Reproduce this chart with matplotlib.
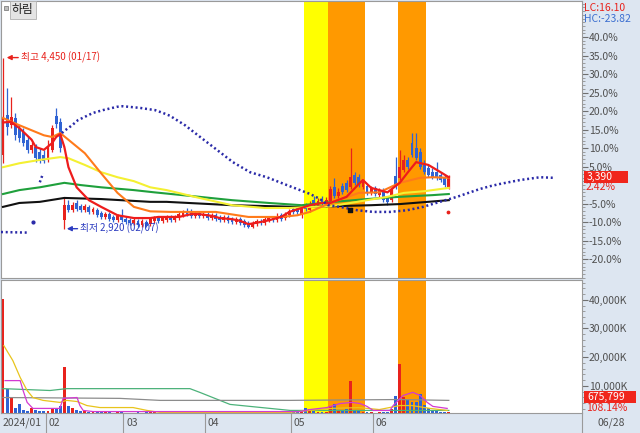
import matplotlib
matplotlib.use('Agg')
import matplotlib.pyplot as plt
from matplotlib.ticker import FixedLocator, MultipleLocator
from matplotlib.transforms import blended_transform_factory
from matplotlib.lines import Line2D
from matplotlib.patches import Rectangle

plt.rcParams['font.family'] = ['Noto Sans CJK KR', 'DejaVu Sans']

# 기준가 (0%)
base_price = 3310

# 일봉 데이터 (2024/01/17 ~ 06/28)
opens = [3580, 3935, 3845, 3910, 3820, 3785, 3715, 3625, 3650, 3605,
         3580, 3535, 3625, 3930, 3875, 2995, 3130, 3085, 3150, 3120,
         3085, 3115, 3070, 3085, 3060, 3025, 3050, 3025, 2995, 3040,
         3005, 2995, 2970, 2990, 2950, 2980, 2960, 2990, 3015, 2990,
         2995, 3025, 2995, 3015, 3040, 3075, 3070, 3035, 3060, 3035,
         3050, 3015, 3040, 3025, 2995, 3025, 3005, 2980, 3005, 2990,
         2970, 2935, 2960, 2990, 2970, 2995, 3015, 2995, 3040, 3015,
         3040, 3095, 3105, 3040, 3120, 3085, 3175, 3120, 3185, 3130,
         3165, 3290, 3210, 3300, 3330, 3290, 3400, 3380, 3290, 3300,
         3240, 3285, 3220, 3265, 3195, 3175, 3390, 3375, 3445, 3535,
         3685, 3640, 3605, 3490, 3460, 3425, 3425, 3400, 3375, 3290]
closes = [3910, 3830, 3920, 3755, 3730, 3685, 3625, 3670, 3550, 3535,
          3525, 3640, 3820, 3855, 3640, 3130, 3085, 3130, 3095, 3085,
          3120, 3070, 3095, 3040, 3025, 3050, 3005, 2995, 3035, 2995,
          2980, 2970, 2995, 2950, 2990, 2945, 3005, 3015, 2990, 3015,
          3025, 2995, 3025, 3050, 3070, 3050, 3035, 3060, 3035, 3050,
          3015, 3040, 3005, 2995, 3025, 2990, 2980, 3005, 2970, 2950,
          2935, 2970, 2990, 2970, 3005, 3015, 2995, 3035, 3005, 3050,
          3075, 3070, 3070, 3095, 3095, 3140, 3140, 3165, 3140, 3175,
          3275, 3210, 3245, 3245, 3265, 3380, 3330, 3310, 3335, 3240,
          3285, 3230, 3265, 3175, 3160, 3265, 3300, 3470, 3535, 3470,
          3580, 3550, 3470, 3425, 3400, 3380, 3375, 3355, 3310, 3390]
highs = [4450, 4180, 4100, 3955, 3845, 3820, 3750, 3695, 3675, 3640,
         3625, 3715, 3845, 4000, 3910, 3205, 3175, 3160, 3175, 3140,
         3140, 3130, 3115, 3105, 3075, 3070, 3070, 3040, 3050, 3095,
         3035, 3015, 3015, 3005, 3005, 2995, 3025, 3035, 3035, 3035,
         3040, 3040, 3040, 3070, 3085, 3105, 3095, 3075, 3075, 3070,
         3070, 3060, 3060, 3040, 3040, 3040, 3025, 3025, 3025, 3005,
         2990, 2990, 3005, 3005, 3025, 3035, 3035, 3060, 3060, 3070,
         3095, 3115, 3120, 3120, 3150, 3165, 3210, 3195, 3210, 3205,
         3300, 3375, 3285, 3330, 3355, 3640, 3425, 3410, 3355, 3320,
         3300, 3300, 3285, 3285, 3210, 3285, 3560, 3625, 3580, 3560,
         3775, 3775, 3640, 3535, 3490, 3460, 3515, 3425, 3400, 3400]
lows = [3505, 3755, 3820, 3715, 3695, 3660, 3595, 3595, 3515, 3505,
        3505, 3515, 3605, 3820, 3605, 2920, 3070, 3070, 3075, 3070,
        3070, 3050, 3050, 3025, 3005, 3005, 2990, 2980, 2980, 2980,
        2960, 2950, 2950, 2935, 2935, 2935, 2945, 2970, 2970, 2970,
        2980, 2980, 2980, 2995, 3025, 3035, 3015, 3015, 3015, 3015,
        2995, 2995, 2990, 2980, 2980, 2970, 2960, 2960, 2950, 2935,
        2925, 2925, 2945, 2950, 2950, 2980, 2980, 2980, 2990, 2995,
        3025, 3050, 3050, 3015, 3075, 3070, 3120, 3105, 3120, 3115,
        3150, 3195, 3195, 3230, 3245, 3275, 3310, 3290, 3275, 3220,
        3220, 3210, 3205, 3160, 3130, 3160, 3275, 3355, 3425, 3455,
        3560, 3535, 3455, 3410, 3380, 3365, 3355, 3335, 3290, 3275]
# 거래량 (천주)
volumes = [40400, 9000, 5600, 2400, 3500, 1400, 1300, 2100, 1400, 1200,
           1200, 1300, 2200, 2000, 2800, 16400, 2800, 2200, 1400, 1300,
           1200, 900, 800, 900, 700, 800, 700, 600, 800, 900,
           600, 500, 600, 700, 600, 800, 900, 700, 600, 500,
           600, 500, 600, 800, 900, 1000, 700, 600, 500, 600,
           500, 600, 500, 600, 500, 600, 700, 500, 600, 800,
           900, 800, 600, 500, 600, 500, 600, 700, 600, 800,
           900, 900, 1200, 1700, 2100, 1900, 1200, 900, 800, 700,
           3100, 3800, 1200, 1300, 1800, 11800, 1500, 1400, 1000, 800,
           700, 600, 700, 800, 900, 2000, 6500, 17700, 6000, 4900,
           4500, 4200, 7300, 3300, 2200, 1500, 1300, 1000, 900, 676]

# 이동평균선 (차트에서 읽은 꼭짓점)
ma5_x = [0, 2, 3, 4, 7, 8, 10, 12, 13, 14, 15, 16, 18, 21, 24, 28, 32, 36, 38, 43, 46, 48,
         51, 53, 56, 58, 60, 63, 65, 68, 70, 73, 75, 78, 80, 84, 87, 88, 90, 94, 97, 99,
         101, 104, 107, 109]
ma5_y = [3870, 3875, 3845, 3820, 3715, 3650, 3625, 3685, 3740, 3765, 3650, 3470, 3290, 3175,
         3115, 3040, 3015, 3015, 3025, 3025, 3050, 3050, 3035, 3015, 3005, 2990, 2960, 2980,
         2995, 3025, 3070, 3105, 3130, 3150, 3150, 3205, 3320, 3355, 3285, 3245, 3330, 3425,
         3515, 3490, 3425, 3380]
ma10_x = [0, 4, 7, 10, 12, 14, 16, 20, 24, 28, 32, 36, 41, 46, 52, 60, 68, 72, 75, 80, 87,
          92, 97, 102, 105, 109]
ma10_y = [3910, 3845, 3800, 3755, 3740, 3775, 3715, 3595, 3415, 3240, 3115, 3075, 3070, 3070,
          3070, 3025, 3025, 3040, 3070, 3150, 3240, 3245, 3330, 3375, 3380, 3375]
ma20_x = [0, 4, 9, 14, 16, 20, 24, 28, 32, 36, 40, 48, 56, 64, 70, 75, 80, 85, 89, 94, 98,
          103, 109]
ma20_y = [3470, 3505, 3535, 3560, 3550, 3490, 3425, 3380, 3345, 3290, 3265, 3195, 3130, 3105,
          3105, 3115, 3120, 3150, 3175, 3205, 3240, 3255, 3285]
ma60_x = [0, 4, 9, 15, 19, 24, 32, 37, 48, 56, 65, 73, 81, 89, 97, 105, 109]
ma60_y = [3230, 3265, 3290, 3330, 3310, 3290, 3265, 3245, 3205, 3175, 3150, 3130, 3160, 3185,
          3205, 3220, 3230]
ma120_x = [0, 4, 9, 15, 24, 36, 40, 56, 72, 80, 90, 97, 109]
ma120_y = [3115, 3150, 3160, 3195, 3185, 3160, 3160, 3130, 3115, 3120, 3130, 3140, 3175]

# 선행 점선 (구간별)
lead_x = [-0.5, 6.0, None, 9.0, 9.8, None,
          14.4, 15.2, 16.9, 18.3, 20.0, 22.0, 24.4, 27.9, 29.3, 33.5, 37.2, 39.1, 40.8, 44.5,
          48.2, 52.3, 56.2, 60.4, 64.5, 69.4, 72.6, 75.1, 77.5, 79.5, 82.4, 86.6, 90.5, 94.6,
          98.8, 102.7, 106.8, 111.0, 114.2, 116.6, 119.1, 121.5, 126.4, 131.3, 134.5]
lead_y = [2890, 2885, None, 3335, 3415, None,
          3775, 3800, 3845, 3890, 3920, 3955, 3980, 4010, 4015, 4000, 3980, 3955, 3930, 3845,
          3740, 3625, 3515, 3425, 3380, 3310, 3265, 3230, 3185, 3130, 3115, 3085, 3070, 3070,
          3085, 3115, 3160, 3205, 3245, 3275, 3300, 3320, 3355, 3380, 3375]
lead_dot_x = [7.3]
lead_dot_y = [2980]

# 거래량 이동평균 (천주)
vma5_x = [0.5, 4.2, 4.9, 5.9, 7.3, 13.9, 14.7, 18.1, 18.8, 19.6, 22, 72.6, 75, 79.2, 82.4,
          85.3, 87.3, 89, 90.5, 94.6, 95.4, 97.8, 100.2, 102, 103.7, 105.1, 108.6]
vma5_y = [11800, 11800, 8400, 4200, 2100, 2100, 5600, 5900, 3100, 1400, 1000, 1000, 1700, 2400,
          3800, 4200, 3800, 2800, 1400, 1400, 3100, 6600, 7700, 6600, 4200, 2800, 2100]
vma20_x = [0.2, 2.4, 4.2, 5.9, 7.3, 9.8, 13.9, 15.6, 18.1, 20.5, 23.7, 31.8, 35.2, 38.4, 70,
           75, 80, 87, 92, 97, 100, 104.4, 108.6]
vma20_y = [24000, 18800, 12900, 8350, 5900, 4900, 4200, 4900, 4500, 3100, 2400, 2400, 1400, 700,
           700, 1400, 2100, 2400, 1700, 3100, 3100, 2100, 1400]
vma60_x = [0, 28.6, 38.4, 70, 97, 109]
vma60_y = [5900, 5600, 4900, 4900, 5200, 4900]
vma120_x = [0, 11.5, 15.6, 45.7, 48.2, 55.5, 70.2, 109]
vma120_y = [9000, 8350, 9000, 9000, 7650, 3500, 1400, 1400]

# 강조 구간 (시작일, 종료일 인덱스)
band_start = [74, 80, 97]
band_end = [79, 88, 103]
band_colors = ['#ffff00', '#ff9900', '#ff9900']

month_idx = [0, 11, 30, 50, 71, 91]
month_labels = ['2024/01', '02', '03', '04', '05', '06']

pct_ticks = [-20, -15, -10, -5, 5, 10, 15, 20, 25, 30, 35, 40]

UP = '#e8221c'
DOWN = '#2f63d3'
W, H = 640, 433

fig = plt.figure(figsize=(6.4, 4.33), dpi=100, facecolor='#dde6f1')
ax = fig.add_axes([1 / W, 155 / H, 581 / W, 277 / H])
axv = fig.add_axes([1 / W, 20 / H, 581 / W, 133 / H], sharex=ax)

for a in (ax, axv):
    a.set_facecolor('white')
    for s in a.spines.values():
        s.set_color('#9a9a9a')
        s.set_linewidth(0.8)
    for s0, s1, c in zip(band_start, band_end, band_colors):
        a.axvspan(s0 - 0.5, s1 + 0.5, color=c, lw=0, zorder=0)

n = len(closes)
idx = list(range(n))
cols = [UP if c >= o else DOWN for o, c in zip(opens, closes)]

# 캔들
ax.vlines(idx, lows, highs, colors=cols, lw=0.9, zorder=2)
bottoms = [min(o, c) for o, c in zip(opens, closes)]
heights = [max(abs(c - o), 4) for o, c in zip(opens, closes)]
ax.bar(idx, heights, bottom=bottoms, width=0.7, color=cols, lw=0, zorder=2)

ax.plot(ma120_x, ma120_y, color='#111111', lw=1.5, zorder=3)
ax.plot(ma60_x, ma60_y, color='#1fa03c', lw=1.5, zorder=3)
ax.plot(ma20_x, ma20_y, color='#f4f032', lw=1.5, zorder=3)
ax.plot(ma10_x, ma10_y, color='#ff7a1a', lw=1.5, zorder=3)
ax.plot(ma5_x, ma5_y, color='#ee1c1c', lw=1.6, zorder=4)

lx = [float('nan') if v is None else v for v in lead_x]
ly = [float('nan') if v is None else v for v in lead_y]
ax.plot(lx, ly, color='#2a2aa8', lw=1.8, ls=(0, (0.8, 1.1)), zorder=4)
ax.scatter(lead_dot_x, lead_dot_y, s=4, color='#2a2aa8', zorder=4)
ax.scatter([84.8], [3085], s=12, marker='s', color='#111111', zorder=5)
ax.scatter([108.7], [3070], s=3, color=UP, zorder=5)

ax.set_xlim(-0.49, 141.56)
ax.set_ylim(2479, 4956)
ax.yaxis.tick_right()
ax.yaxis.set_major_locator(FixedLocator([base_price * (1 + p / 100) for p in pct_ticks]))
ax.set_yticklabels([f'{p:.1f}%' for p in pct_ticks])
ax.yaxis.set_minor_locator(FixedLocator([base_price * (1 + p / 100) for p in range(-25, 50)]))
ax.tick_params(axis='y', which='major', length=4, color='#707070', labelsize=7.5,
               labelcolor='#505050', pad=1)
ax.tick_params(axis='y', which='minor', length=2, color='#909090')
ax.tick_params(axis='x', bottom=False, labelbottom=False)

ax.annotate('최고 4,450 (01/17)', xy=(0.9, 4450), xytext=(4.4, 4450), color=UP, fontsize=7,
            va='center', arrowprops=dict(arrowstyle='-|>', color=UP, lw=1, mutation_scale=7,
                                         shrinkA=0, shrinkB=0))
ax.annotate('최저 2,920 (02/07)', xy=(15.6, 2920), xytext=(18.9, 2920), color='#2c3cc0',
            fontsize=7, va='center',
            arrowprops=dict(arrowstyle='-|>', color='#2c3cc0', lw=1, mutation_scale=7,
                            shrinkA=0, shrinkB=0))

# 거래량
axv.bar(idx, volumes, width=0.7, color=cols, lw=0, zorder=2)
axv.plot(vma120_x, vma120_y, color='#4cb27a', lw=0.9, zorder=3)
axv.plot(vma60_x, vma60_y, color='#8c8c8c', lw=0.9, zorder=3)
axv.plot(vma20_x, vma20_y, color='#e8c41c', lw=0.9, zorder=3)
axv.plot(vma5_x, vma5_y, color='#d23ad2', lw=0.9, zorder=3)
axv.set_ylim(500, 46900)
axv.yaxis.tick_right()
axv.set_yticks([10000, 20000, 30000, 40000])
axv.set_yticklabels(['10,000K', '20,000K', '30,000K', '40,000K'])
axv.yaxis.set_minor_locator(MultipleLocator(2000))
axv.tick_params(axis='y', which='major', length=4, color='#707070', labelsize=7.5,
                labelcolor='#505050', pad=1)
axv.tick_params(axis='y', which='minor', length=2, color='#909090')
axv.tick_params(axis='x', bottom=False, labelbottom=False)

# 날짜 축
tr = blended_transform_factory(axv.transData, fig.transFigure)
for i, lab in zip(month_idx, month_labels):
    if i > 0:
        fig.add_artist(Line2D([i - 0.6, i - 0.6], [0, 20 / H], transform=tr, color='#9a9a9a', lw=0.8))
    fig.text(i + 0.1 if i > 0 else 0, 10 / H, lab, transform=tr, fontsize=7.5, color='#505050',
             va='center', ha='left')
fig.add_artist(Line2D([582 / W, 582 / W], [0, 20 / H], transform=fig.transFigure, color='#9a9a9a', lw=0.8))
fig.text(597 / W, 10 / H, '06/28', fontsize=7.5, color='#505050', va='center')


def px(x, y):
    return x / W, 1 - y / H


# 상단 라벨
fig.add_artist(Rectangle(px(4, 10), 4 / W, 4 / H, transform=fig.transFigure,
                         facecolor='#bdbdbd', edgecolor='#808080', lw=0.6))
fig.text(*px(12, 10), '하림', fontsize=8.5, color='#202020', va='center',
         bbox=dict(boxstyle='square,pad=0.2', facecolor='#e4e4e4', edgecolor='#b0b0b0', lw=0.6))
fig.text(*px(584, 8), 'LC:16.10', fontsize=7.5, color=UP, va='center')
fig.text(*px(584, 19), 'HC:-23.82', fontsize=7.5, color='#3c6fd0', va='center')
fig.add_artist(Rectangle(px(584, 183), 44 / W, 12 / H, transform=fig.transFigure,
                         facecolor='#f0261c', edgecolor='none'))
fig.text(*px(587, 177), '3,390', fontsize=7.5, color='white', va='center')
fig.text(*px(586, 187), '2.42%', fontsize=7.5, color=UP, va='center')
fig.add_artist(Rectangle(px(584, 403), 52 / W, 12 / H, transform=fig.transFigure,
                         facecolor='#f0261c', edgecolor='none'))
fig.text(*px(587, 397), '675,799', fontsize=7.5, color='white', va='center')
fig.text(*px(586, 408), '108.14%', fontsize=7.5, color=UP, va='center')

fig.savefig('out.png', dpi=100, facecolor=fig.get_facecolor())
